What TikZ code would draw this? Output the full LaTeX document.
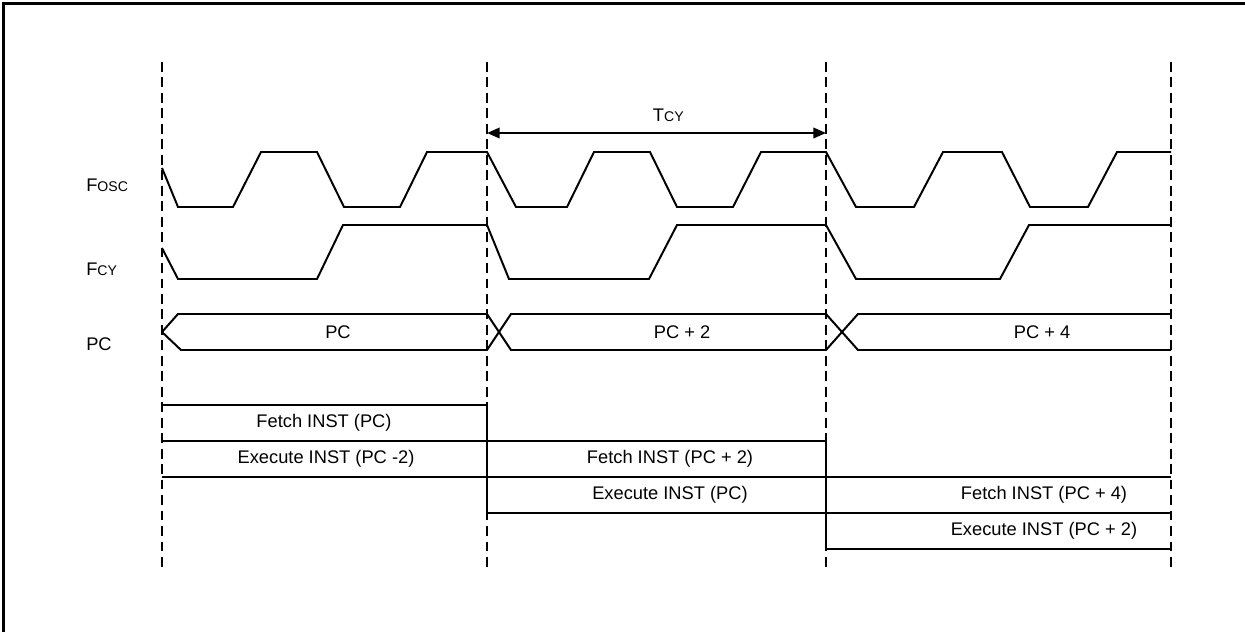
\documentclass[tikz,border=0pt]{standalone}
\usepackage{fontspec}
\setmainfont{Liberation Sans}
\usetikzlibrary{arrows.meta}
\tikzset{
    wave/.style={line width=1.4pt, line join=miter},
    guide/.style={line width=0.8pt, dash pattern=on 7pt off 4pt},
    lbl/.style={font=\fontsize{13}{15}\selectfont, inner sep=0pt},
}
\newcommand{\sig}[2]{#1{\fontsize{10}{12}\selectfont #2}}
\begin{document}
\begin{tikzpicture}[x=0.025cm,y=-0.025cm]
                \useasboundingbox (0,0) rectangle (1245,632);
                % frame
                \draw[line width=2pt] (3.5,632) -- (3.5,3.5) -- (1245,3.5);
                % cycle boundaries
                \foreach \x in {162,487,826,1171}
                    \draw[guide] (\x,62) -- (\x,567);
                % signal names
                \node[lbl,anchor=base west] (fosc) at (86,191.7) {\sig{F}{OSC}};
                \node[lbl,anchor=base west] (fcy) at (86,275) {\sig{F}{CY}};
                \node[lbl,anchor=base west] (pc) at (86,350) {PC};
                % cycle time
                \coordinate (tcyL) at (487,133);
                \coordinate (tcyR) at (826,133);
                \draw[line width=1.4pt,{Triangle[length=9pt,width=7.5pt]}-{Triangle[length=9pt,width=7.5pt]}] (tcyL) -- (tcyR);
                \node[lbl,anchor=base west] (tcy) at (652.7,121.7) {\sig{T}{CY}};
                % oscillator
                \scope
                \draw[wave] (162,168) -- (178,207) -- (233,207) -- (261,152) -- (317,152)
                    -- (344,207) -- (400,207) -- (427,152) -- (487,152)
                    -- (516,207) -- (567,207) -- (594,152) -- (650,152)
                    -- (677,207) -- (733,207) -- (761,152) -- (826,152)
                    -- (856,207) -- (914,207) -- (943,152) -- (1002,152)
                    -- (1030,207) -- (1088,207) -- (1117,152) -- (1171,152);
                \endscope
                % instruction clock
                \scope
                \draw[wave] (162,248) -- (178,279) -- (317,279) -- (343,225) -- (487,225)
                    -- (509,279) -- (649,279) -- (677,225) -- (826,225)
                    -- (856,279) -- (1000,279) -- (1029,225) -- (1171,225);
                \endscope
                % program counter
                \scope
                \draw[wave] (162,332) -- (178,314) -- (487,314) -- (511,350) -- (826,350)
                    -- (858,314) -- (1171,314);
                \draw[wave] (162,332) -- (181,350) -- (487,350) -- (511,314) -- (826,314)
                    -- (858,350) -- (1171,350);
                \node[lbl] (pc0) at (338,332) {PC};
                \node[lbl] (pc2) at (682,332) {PC + 2};
                \node[lbl] (pc4) at (1042,332) {PC + 4};
                \endscope
                % pipeline
                \scope
                \draw[wave] (162,405) -- (487,405) -- (487,513)
                    (826,441) -- (826,549)
                    (162,441) -- (826,441)
                    (162,477) -- (1171,477)
                    (487,513) -- (1171,513)
                    (826,549) -- (1171,549);
                \node[lbl] (fetch0) at (324,423) {Fetch INST (PC)};
                \node[lbl] (exec0) at (326,459) {Execute INST (PC -2)};
                \node[lbl] (fetch2) at (670,459) {Fetch INST (PC + 2)};
                \node[lbl] (exec2) at (670,495) {Execute INST (PC)};
                \node[lbl] (fetch4) at (1044,495) {Fetch INST (PC + 4)};
                \node[lbl] (exec4) at (1044,531) {Execute INST (PC + 2)};
                \endscope
\end{tikzpicture}
\end{document}
